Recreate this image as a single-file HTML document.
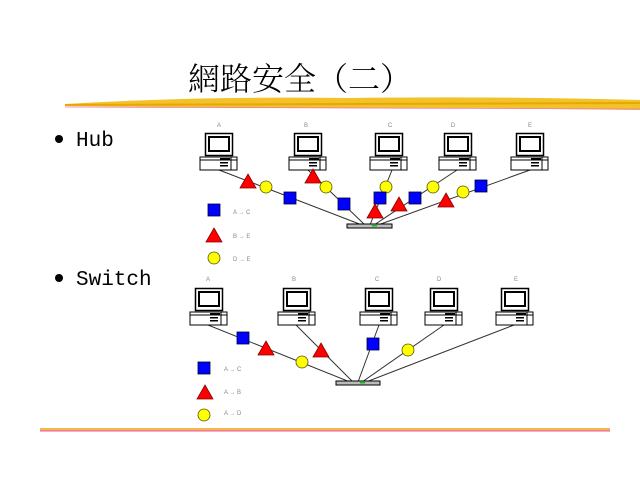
<!DOCTYPE html>
<html><head><meta charset="utf-8"><style>
html,body{margin:0;padding:0;background:#fff;width:640px;height:480px;overflow:hidden}
svg{display:block}
</style></head><body>
<svg width="640" height="480" viewBox="0 0 640 480" xmlns="http://www.w3.org/2000/svg">
<defs>
<g id="pc">
 <rect x="0.5" y="0.5" width="27" height="22" fill="#fff" stroke="#000" stroke-width="1.5"/>
 <rect x="4" y="4" width="20" height="14" fill="#fff" stroke="#000" stroke-width="2"/>
 <rect x="-5" y="24" width="37" height="13" fill="#fff" stroke="#000" stroke-width="1"/>
 <line x1="-5" y1="27" x2="32" y2="27" stroke="#000" stroke-width="1"/>
 <rect x="15" y="25" width="10" height="2" fill="#000"/>
 <rect x="15" y="29" width="8" height="1.5" fill="#000"/>
 <rect x="15" y="32" width="8" height="1.5" fill="#000"/>
 <line x1="26" y1="24" x2="26" y2="37" stroke="#000"/>
</g>
<polygon id="tri" points="0,-8 8,6 -8,6" fill="#f00" stroke="#800" stroke-width="0.8"/>
<rect id="sq" x="-6" y="-6" width="12" height="12" fill="#00f" stroke="#003" stroke-width="0.8"/>
<circle id="ci" r="6" fill="#ff0" stroke="#550" stroke-width="0.8"/>
</defs>

<!-- title -->
<text x="188" y="90" font-family="'Noto Serif CJK SC','Noto Serif CJK SC',serif" font-size="32" font-weight="300" fill="#000">網路安全（二）</text>
<!-- brush -->
<path d="M65,104 Q200,96 350,98 Q500,96 640,100 L640,110 Q500,108 350,108 Q200,108 65,106 Z" fill="#f2c22a"/>
<path d="M65,105 L640,103" stroke="#e8a800" stroke-width="2"/>
<line x1="65" y1="107" x2="640" y2="109" stroke="#f070c0" stroke-width="0.7"/>
<!-- bottom line -->
<rect x="40" y="428" width="570" height="3" fill="#f2b84a"/>
<line x1="40" y1="431" x2="610" y2="431" stroke="#f050b0" stroke-width="1"/>

<!-- bullets -->
<circle cx="59" cy="139" r="4" fill="#000"/>
<text x="76" y="146" font-family="'Liberation Mono',monospace" font-size="21">Hub</text>
<circle cx="59" cy="278" r="4" fill="#000"/>
<text x="76" y="285" font-family="'Liberation Mono',monospace" font-size="21">Switch</text>

<g font-family="'Liberation Sans',sans-serif" font-size="6" fill="#888" text-anchor="middle">
<text x="219" y="127">A</text><text x="306" y="127">B</text><text x="390" y="127">C</text><text x="453" y="127">D</text><text x="530" y="127">E</text>
<text x="208" y="281">A</text><text x="294" y="281">B</text><text x="377" y="281">C</text><text x="439" y="281">D</text><text x="516" y="281">E</text>
</g>

<!-- hub lines -->
<g stroke="#333" stroke-width="1">
<line x1="219" y1="170" x2="362" y2="225"/>
<line x1="308" y1="170" x2="365" y2="225"/>
<line x1="392" y1="170" x2="370" y2="225"/>
<line x1="457" y1="170" x2="374" y2="225"/>
<line x1="530" y1="170" x2="378" y2="225"/>
</g>
<use href="#pc" x="205" y="133"/><use href="#pc" x="294" y="133"/><use href="#pc" x="375" y="133"/><use href="#pc" x="444" y="133"/><use href="#pc" x="516" y="133"/>
<rect x="347" y="224" width="45" height="4" fill="#bbb" stroke="#000" stroke-width="1"/>
<rect x="372" y="225" width="5" height="1.5" fill="#0c0"/>
<use href="#tri" x="248" y="182"/><use href="#ci" x="266" y="187"/><use href="#sq" x="290" y="198"/>
<use href="#tri" x="313" y="177"/><use href="#ci" x="326" y="187"/><use href="#sq" x="344" y="204"/>
<use href="#ci" x="386" y="187"/><use href="#sq" x="380" y="198"/><use href="#tri" x="375" y="212"/>
<use href="#ci" x="433" y="187"/><use href="#sq" x="415" y="198"/><use href="#tri" x="399" y="205"/>
<use href="#tri" x="446" y="201"/><use href="#ci" x="463" y="192"/><use href="#sq" x="481" y="186"/>
<use href="#sq" x="214" y="210"/><use href="#tri" x="214" y="236"/><use href="#ci" x="214" y="258"/>
<g font-family="'Liberation Sans',sans-serif" font-size="6" fill="#888">
<text x="233" y="214">A → C</text><text x="233" y="238">B → E</text><text x="233" y="261">D → E</text>
<text x="224" y="371">A → C</text><text x="224" y="394">A → B</text><text x="224" y="415">A → D</text>
</g>

<!-- switch lines -->
<g stroke="#333" stroke-width="1">
<line x1="208" y1="325" x2="350" y2="382"/>
<line x1="296" y1="325" x2="353" y2="382"/>
<line x1="379" y1="325" x2="358" y2="382"/>
<line x1="444" y1="325" x2="362" y2="382"/>
<line x1="514" y1="325" x2="366" y2="382"/>
</g>
<use href="#pc" x="195" y="288"/><use href="#pc" x="283" y="288"/><use href="#pc" x="365" y="288"/><use href="#pc" x="430" y="288"/><use href="#pc" x="501" y="288"/>
<rect x="336" y="381" width="44" height="4" fill="#bbb" stroke="#000" stroke-width="1"/>
<rect x="360" y="382" width="5" height="1.5" fill="#0c0"/>
<use href="#sq" x="243" y="338"/><use href="#tri" x="266" y="349"/><use href="#ci" x="302" y="362"/>
<use href="#tri" x="321" y="351"/><use href="#sq" x="373" y="344"/><use href="#ci" x="408" y="350"/>
<use href="#sq" x="204" y="368"/><use href="#tri" x="205" y="393"/><use href="#ci" x="204" y="415"/>
</svg>
</body></html>
